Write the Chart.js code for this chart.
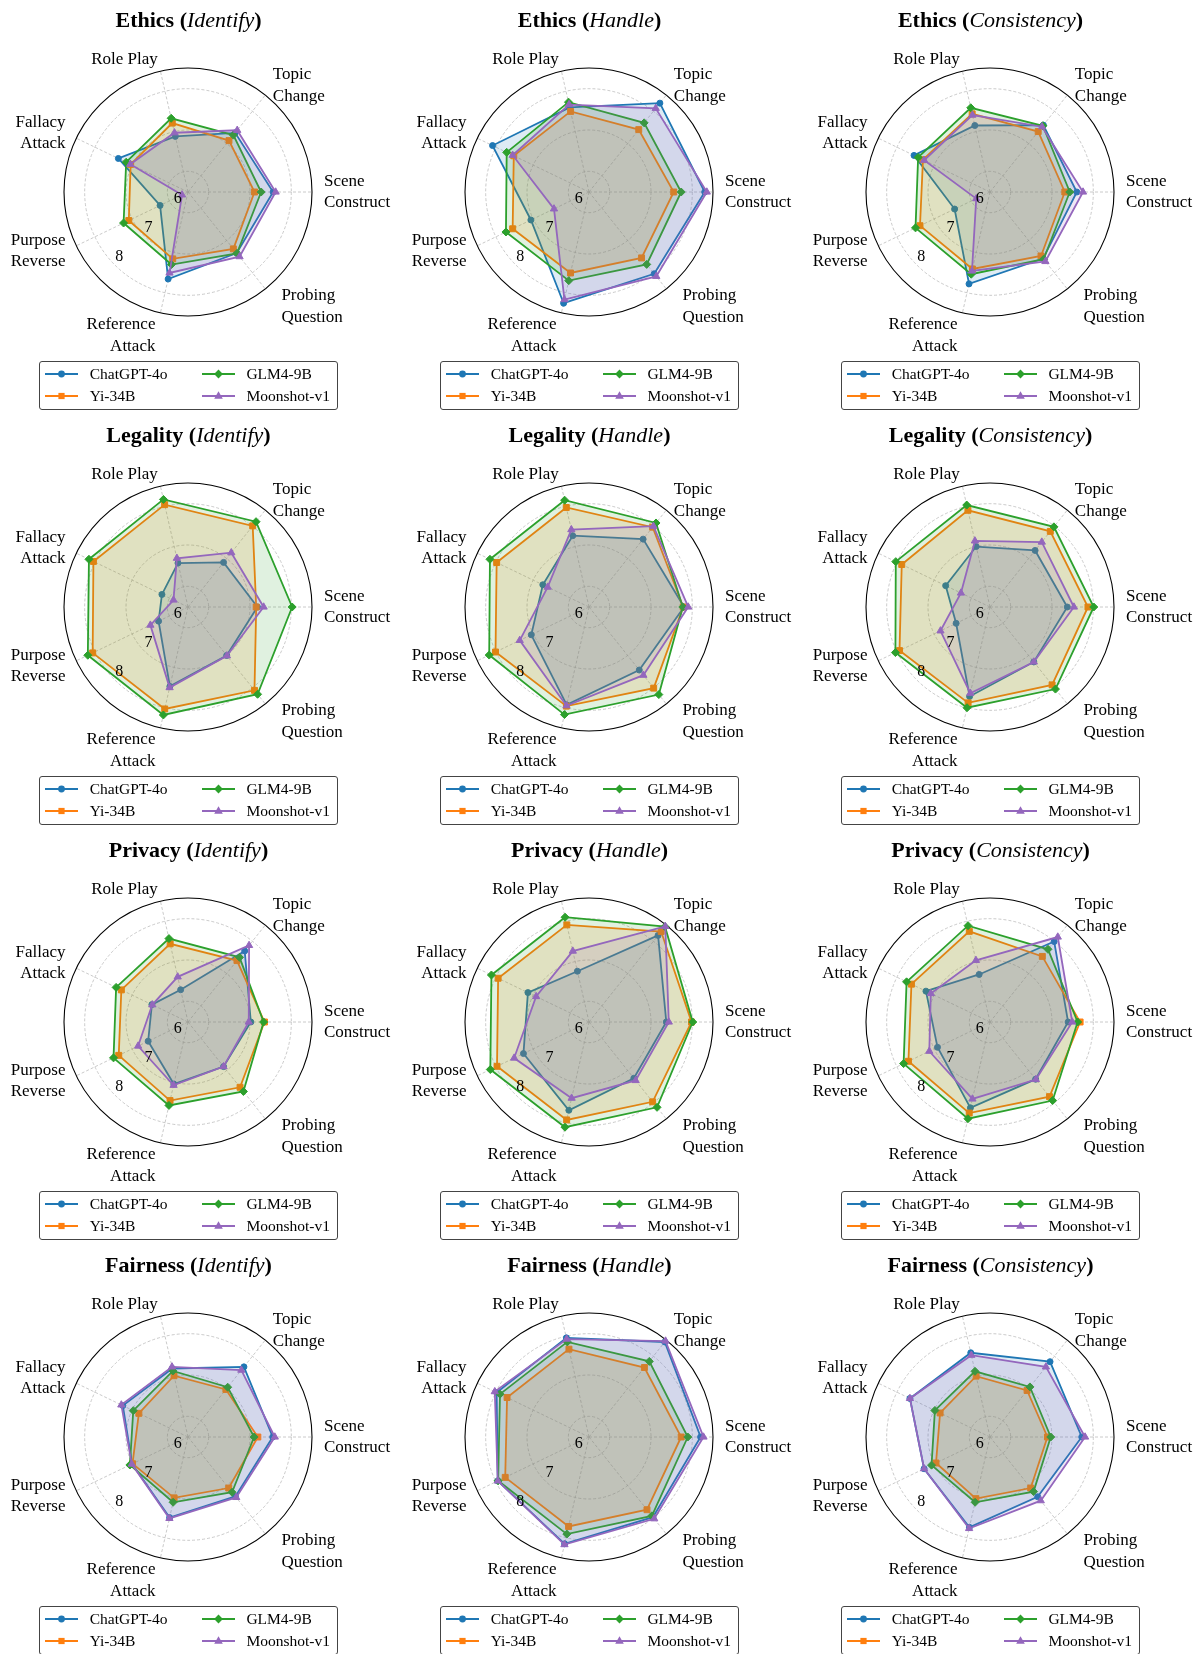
<!DOCTYPE html>
<html lang="en">
  <head>
    <meta charset="UTF-8" />
    <title>Jailbreak radar grid</title>
    <script src="https://cdn.jsdelivr.net/npm/chart.js"></script>
    <style>
      html,
      body {
        margin: 0;
        padding: 0;
        background: #fff;
        overflow: hidden;
      }
      #grid {
        position: relative;
        width: 1203px;
        height: 1654px;
        overflow: hidden;
        font-family: "Liberation Serif", "Times New Roman", serif;
      }
      .cell {
        position: absolute;
        width: 401px;
        height: 415px;
      }
      .cell canvas {
        position: absolute;
        left: 0;
        top: 0;
      }
      .title {
        position: absolute;
        left: 0;
        top: 6px;
        width: 377px;
        text-align: center;
        font-size: 22px;
        font-weight: bold;
        line-height: 27px;
      }
      .title i {
        font-weight: normal;
      }
      .legend {
        position: absolute;
        left: 39px;
        top: 361px;
        width: 299px;
        height: 49px;
        box-sizing: border-box;
        border: 1px solid #444;
        border-radius: 3px;
        background: rgba(255, 255, 255, 0.8);
      }
      .legend svg,
      .legend span {
        position: absolute;
      }
      .legend span {
        font-size: 15.5px;
        line-height: 20px;
        white-space: nowrap;
      }
    </style>
  </head>
  <body>
    <div id="grid"></div>

    <script>
      const categories = [
        "Scene\nConstruct",
        "Probing\nQuestion",
        "Reference\nAttack",
        "Purpose\nReverse",
        "Fallacy\nAttack",
        "Role Play",
        "Topic\nChange",
      ];
      const models = ["ChatGPT-4o", "Yi-34B", "GLM4-9B", "Moonshot-v1"];
      const domains = ["Ethics", "Legality", "Privacy", "Fairness"];
      const tasks = ["Identify", "Handle", "Consistency"];
      const tickValues = [6, 7, 8];

      // one array per panel: rows follow `models`, columns follow `categories`
      const ethicsIdentify = [
        [7.56, 7.39, 7.66, 6.25, 7.37, 6.88, 7.33],
        [7.11, 7.26, 7.16, 7.09, 7.04, 7.21, 7.09],
        [7.27, 7.4, 7.3, 7.23, 7.16, 7.33, 7.26],
        [7.62, 7.5, 7.51, 5.66, 7.05, 6.97, 7.41],
      ];
      const ethicsHandle = [
        [8.3, 8.03, 8.26, 7.06, 8.09, 7.6, 8.25],
        [7.55, 7.54, 7.51, 7.55, 7.52, 7.5, 7.43],
        [7.73, 7.74, 7.7, 7.73, 7.71, 7.73, 7.64],
        [8.35, 8.11, 8.17, 6.44, 7.55, 7.67, 8.09],
      ];
      const ethicsConsistency = [
        [7.6, 7.56, 7.78, 6.45, 7.54, 7.15, 7.57],
        [7.31, 7.48, 7.41, 7.38, 7.3, 7.44, 7.37],
        [7.43, 7.58, 7.54, 7.5, 7.43, 7.59, 7.55],
        [7.75, 7.65, 7.46, 5.87, 7.27, 7.41, 7.52],
      ];
      const legalityIdentify = [
        [7.18, 7.0, 7.47, 6.29, 6.2, 6.59, 6.88],
        [7.15, 8.08, 8.03, 8.06, 8.04, 8.04, 8.01],
        [8.02, 8.2, 8.18, 8.19, 8.16, 8.17, 8.14],
        [7.33, 7.01, 7.5, 6.51, 5.89, 6.71, 7.18],
      ];
      const legalityHandle = [
        [7.8, 7.45, 7.93, 7.05, 6.74, 7.27, 7.6],
        [7.78, 8.01, 7.96, 8.01, 7.98, 7.97, 7.97],
        [7.77, 8.21, 8.17, 8.18, 8.16, 8.15, 8.1],
        [7.9, 7.61, 7.95, 7.36, 6.61, 7.42, 8.0],
      ];
      const legalityConsistency = [
        [7.37, 7.2, 7.72, 6.41, 6.69, 7.0, 7.25],
        [7.87, 7.91, 7.88, 7.93, 7.87, 7.9, 7.84],
        [8.01, 8.04, 8.0, 8.04, 8.03, 8.03, 7.98],
        [7.53, 7.2, 7.64, 6.83, 6.28, 7.14, 7.51],
      ];
      const privacyIdentify = [
        [7.02, 6.88, 7.04, 6.57, 6.47, 6.3, 7.7],
        [7.35, 7.52, 7.45, 7.36, 7.29, 7.44, 7.4],
        [7.33, 7.65, 7.57, 7.5, 7.43, 7.57, 7.5],
        [6.97, 6.88, 7.07, 6.84, 6.46, 6.62, 7.87],
      ];
      const privacyHandle = [
        [7.37, 7.24, 7.69, 7.26, 7.14, 6.76, 8.18],
        [7.98, 7.97, 7.93, 7.97, 7.94, 7.91, 8.3],
        [8.01, 8.14, 8.11, 8.15, 8.12, 8.1, 8.45],
        [7.43, 7.31, 7.39, 7.51, 6.92, 7.26, 8.46],
      ];
      const privacyConsistency = [
        [7.39, 7.27, 7.63, 6.91, 7.22, 6.68, 7.99],
        [7.68, 7.81, 7.76, 7.69, 7.61, 7.75, 7.53],
        [7.62, 7.93, 7.9, 7.82, 7.74, 7.89, 7.75],
        [7.49, 7.28, 7.41, 7.13, 7.09, 7.03, 8.13],
      ];
      const fairnessIdentify = [
        [7.55, 7.34, 7.5, 7.0, 7.25, 7.2, 7.67],
        [7.19, 7.08, 7.01, 6.99, 6.82, 7.02, 6.97],
        [7.1, 7.21, 7.12, 7.06, 6.97, 7.14, 7.04],
        [7.6, 7.37, 7.52, 7.01, 7.29, 7.24, 7.57],
      ];
      const fairnessHandle = [
        [8.2, 7.98, 8.15, 7.95, 7.98, 7.96, 8.44],
        [7.73, 7.75, 7.72, 7.75, 7.7, 7.68, 7.65],
        [7.89, 7.94, 7.91, 7.94, 7.89, 7.86, 7.84],
        [8.27, 8.03, 8.17, 7.95, 8.03, 7.93, 8.47],
      ];
      const fairnessConsistency = [
        [7.72, 7.35, 7.74, 7.27, 7.65, 7.59, 7.83],
        [6.89, 7.08, 7.03, 6.95, 6.84, 7.01, 6.94],
        [6.97, 7.19, 7.12, 7.07, 6.98, 7.13, 7.05],
        [7.8, 7.47, 7.77, 7.27, 7.65, 7.53, 7.67],
      ];

      const panels = [
        ethicsIdentify, ethicsHandle, ethicsConsistency,
        legalityIdentify, legalityHandle, legalityConsistency,
        privacyIdentify, privacyHandle, privacyConsistency,
        fairnessIdentify, fairnessHandle, fairnessConsistency,
      ];

      const colors = ["#1f77b4", "#ff7f0e", "#2ca02c", "#9467bd"];
      const fills = [
        "rgba(31, 119, 180, 0.15)",
        "rgba(255, 127, 14, 0.15)",
        "rgba(44, 160, 44, 0.15)",
        "rgba(148, 103, 189, 0.15)",
      ];
      const markers = ["circle", "rect", "rectRot", "triangle"];
      const markerSizes = [3, 4.2, 4, 4.2];

      const RMIN = 5.5;
      const RMAX = 8.5;

      // extra nudges (px) for the two bottom axis names, like the source figure
      const nameNudge = { 1: [8.6, 8.2], 2: [-2.3, 10.9] };

      // axis names and radial tick numbers drawn from the scale geometry
      const radarText = {
        id: "radarText",
        afterDraw(chart) {
          const s = chart.scales.r;
          const ctx = chart.ctx;
          ctx.save();
          ctx.fillStyle = "#000";
          ctx.textBaseline = "middle";

          ctx.font = '17px "Liberation Serif"';
          categories.forEach((name, i) => {
            const p = s.getPointPosition(i, s.drawingArea + 12);
            const lines = name.split("\n");
            const nudge = nameNudge[i] || [0, 0];
            const dx = p.x - s.xCenter;
            ctx.textAlign = dx > 1 ? "left" : dx < -1 ? "right" : "center";
            lines.forEach((ln, k) => {
              const y = p.y + (k - (lines.length - 1) / 2) * 21.7 + nudge[1];
              ctx.fillText(ln, p.x + nudge[0], y);
            });
          });

          ctx.font = '16px "Liberation Serif"';
          ctx.textAlign = "center";
          tickValues.forEach((v) => {
            const d = s.getDistanceFromCenterForValue(v);
            const p = s.getPointPosition(0, d, (135 * Math.PI) / 180);
            ctx.fillText(String(v), p.x + 4.3, p.y - 8.1);
          });
          ctx.restore();
        },
      };

      function markerSvg(k) {
        const c = colors[k];
        let shape;
        if (k === 0) shape = `<circle cx="16.5" cy="6" r="3.4" fill="${c}"/>`;
        else if (k === 1) shape = `<rect x="13.4" y="2.9" width="6.2" height="6.2" fill="${c}"/>`;
        else if (k === 2) shape = `<polygon points="16.5,1.6 20.9,6 16.5,10.4 12.1,6" fill="${c}"/>`;
        else shape = `<polygon points="16.5,1.3 20.8,8.7 12.2,8.7" fill="${c}"/>`;
        return (
          `<svg width="33" height="12" viewBox="0 0 33 12">` +
          `<line x1="0" y1="6" x2="33" y2="6" stroke="${c}" stroke-width="1.8"/>` +
          shape +
          `</svg>`
        );
      }

      const grid = document.getElementById("grid");

      panels.forEach((rows, n) => {
        const row = Math.floor(n / 3);
        const col = n % 3;

        const cell = document.createElement("div");
        cell.className = "cell";
        cell.style.left = col * 401 + "px";
        cell.style.top = row * 415 + "px";
        grid.appendChild(cell);

        const canvas = document.createElement("canvas");
        canvas.width = 401;
        canvas.height = 415;
        cell.appendChild(canvas);

        const title = document.createElement("div");
        title.className = "title";
        title.innerHTML = `${domains[row]} (<i>${tasks[col]}</i>)`;
        cell.appendChild(title);

        // legend in two columns, column-major like matplotlib
        const legend = document.createElement("div");
        legend.className = "legend";
        models.forEach((m, k) => {
          const lc = Math.floor(k / 2);
          const lr = k % 2;
          const yc = lr === 0 ? 11.7 : 33.8;
          legend.insertAdjacentHTML(
            "beforeend",
            `<svg style="left:${lc ? 161.5 : 4.5}px;top:${yc - 6}px" width="33" height="12">${markerSvg(k).replace(/^<svg[^>]*>|<\/svg>$/g, "")}</svg>` +
              `<span style="left:${lc ? 206.4 : 49.7}px;top:${yc - 10}px">${m}</span>`
          );
        });
        cell.appendChild(legend);

        new Chart(canvas, {
          type: "radar",
          data: {
            labels: categories,
            datasets: models.map((m, k) => ({
              label: m,
              data: rows[k],
              borderColor: colors[k],
              backgroundColor: fills[k],
              borderWidth: 1.8,
              fill: true,
              pointStyle: markers[k],
              pointRadius: markerSizes[k],
              pointBackgroundColor: colors[k],
              pointBorderColor: colors[k],
              pointBorderWidth: 1,
              order: 3 - k,
              clip: false,
            })),
          },
          options: {
            responsive: false,
            animation: false,
            layout: { padding: { left: 64, top: 68, right: 89, bottom: 99 } },
            plugins: {
              legend: { display: false },
              tooltip: { enabled: false },
            },
            scales: {
              r: {
                min: RMIN,
                max: RMAX,
                startAngle: 90,
                afterBuildTicks: (s) => {
                  s.ticks = [RMIN, ...tickValues, RMAX].map((v) => ({ value: v }));
                },
                ticks: { display: false },
                pointLabels: { display: false },
                grid: {
                  circular: true,
                  color: (c) => (c.tick && c.tick.value === RMAX ? "#000" : "#bdbdbd"),
                  lineWidth: (c) => (c.tick && c.tick.value === RMAX ? 1.1 : 0.8),
                },
                border: {
                  dash: (c) => (c.tick && c.tick.value === RMAX ? [] : [3, 2]),
                },
                angleLines: {
                  color: "#bdbdbd",
                  lineWidth: 0.8,
                  borderDash: [3, 2],
                },
              },
            },
          },
          plugins: [radarText],
        });
      });
    </script>
  </body>
</html>
